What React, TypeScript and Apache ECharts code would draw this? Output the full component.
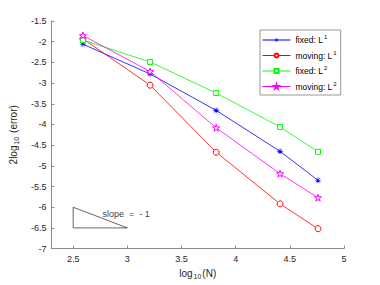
import React, { useEffect, useRef } from "react";
import * as echarts from "echarts";

const xValues = [2.59, 3.21, 3.82, 4.41, 4.76];
const fixedL1 = [-2.06, -2.78, -3.66, -4.65, -5.35];
const movingL1 = [-1.93, -3.05, -4.67, -5.92, -6.52];
const fixedL2 = [-1.96, -2.49, -3.24, -4.06, -4.66];
const movingL2 = [-1.85, -2.72, -4.08, -5.19, -5.77];
const xTicks = [2.5, 3, 3.5, 4, 4.5, 5];
const triangle = [[2.5, -6], [2.5, -6.5], [3, -6.5], [2.5, -6]];
const slopeLabelPos = [2.77, -6.16];
const seriesNames = [
  "{t|fixed: L}{sup|1}",
  "{t|moving: L}{sup|1}",
  "{t|fixed: L}{sup|2}",
  "{t|moving: L}{sup|2}",
];

const asterisk =
  "path://M4.5,0H5.5V10H4.5Z M0,4.5H10V5.5H0Z M1,1.7L1.7,1L9,8.3L8.3,9Z M8.3,1L9,1.7L1.7,9L1,8.3Z";
const star =
  "path://M5,0L6.12,3.46L9.76,3.45L6.81,5.59L7.94,9.05L5,6.9L2.06,9.05L3.19,5.59L0.24,3.45L3.88,3.46Z";

const FONT = "Liberation Sans";

export default function App() {
  const ref = useRef<HTMLDivElement>(null);
  useEffect(() => {
    const chart = echarts.init(ref.current!, null, { renderer: "svg" });
    const zip = (ys: number[]) => xValues.map((x, i) => [x, ys[i]]);
    const legendRich = {
      t: { fontSize: 8.5, fontFamily: FONT, color: "#000", lineHeight: 12 },
      sup: { fontSize: 6, fontFamily: FONT, color: "#000", verticalAlign: "top", lineHeight: 8, padding: [0, 0, 0, 1] },
    };
    const nameRich = {
      m: { fontSize: 10, fontFamily: FONT, color: "#262626" },
      sub: { fontSize: 7, fontFamily: FONT, color: "#262626", padding: [6, 1, 0, 1] },
    };
    const mk = (i: number, ys: number[], color: string, symbol: string, size: number, filled: boolean) => ({
      name: seriesNames[i],
      type: "line",
      data: zip(ys),
      symbol,
      symbolSize: size,
      showAllSymbol: true,
      lineStyle: { color, width: 0.8 },
      itemStyle: filled
        ? { color, borderColor: color, borderWidth: 0 }
        : { color: "#fff", borderColor: color, borderWidth: 1 },
      z: 3,
    });
    chart.setOption({
      animation: false,
      backgroundColor: "#fff",
      textStyle: { fontFamily: FONT },
      grid: { left: 50, top: 21, width: 294, height: 230, containLabel: false },
      legend: {
        orient: "vertical",
        left: 260,
        top: 30,
        data: seriesNames,
        itemWidth: 28,
        itemHeight: 5,
        itemGap: 5,
        padding: [4, 4, 4, 2],
        backgroundColor: "#fff",
        borderColor: "#999",
        borderWidth: 1,
        borderRadius: 0,
        lineStyle: { width: 1 },
        textStyle: { fontSize: 8.5, fontFamily: FONT, color: "#000", rich: legendRich },
      },
      xAxis: {
        type: "value",
        min: 2.3,
        max: 5,
        name: "{m|log}{sub|10}{m|(N)}",
        nameLocation: "middle",
        nameGap: 15,
        nameTextStyle: { fontSize: 10, color: "#262626", rich: nameRich },
        axisLine: { lineStyle: { color: "#8c8c8c", width: 1 } },
        axisTick: { inside: true, length: 3, customValues: xTicks, lineStyle: { color: "#8c8c8c" } },
        axisLabel: { fontSize: 9, color: "#262626", margin: 6, customValues: xTicks },
        splitLine: { show: false },
      },
      yAxis: {
        type: "value",
        min: -7,
        max: -1.5,
        interval: 0.5,
        name: "{m|2log}{sub|10}{m| (error)}",
        nameLocation: "middle",
        nameGap: 32,
        nameRotate: 90,
        nameTextStyle: { fontSize: 10, color: "#262626", rich: nameRich },
        axisLine: { lineStyle: { color: "#8c8c8c", width: 1 } },
        axisTick: { inside: true, length: 3, lineStyle: { color: "#8c8c8c" } },
        axisLabel: { fontSize: 9, color: "#262626", margin: 5 },
        splitLine: { show: false },
      },
      series: [
        mk(0, fixedL1, "#0000ff", asterisk, 6, true),
        mk(1, movingL1, "#ff0000", "circle", 6, false),
        mk(2, fixedL2, "#00ff00", "rect", 5, false),
        mk(3, movingL2, "#ff00ff", star, 7, false),
        {
          name: "triangle",
          type: "line",
          data: triangle,
          symbol: "none",
          lineStyle: { color: "#000", width: 0.6 },
          z: 2,
        },
        {
          name: "slope",
          type: "scatter",
          data: [slopeLabelPos],
          symbolSize: 0,
          label: {
            show: true,
            position: "right",
            distance: 0,
            formatter: "slope  =  - 1",
            fontSize: 9,
            color: "#000",
            fontFamily: FONT,
          },
        },
      ],
    });
    return () => chart.dispose();
  }, []);
  return <div ref={ref} style={{ width: 380, height: 285, position: "absolute", left: 0, top: 0 }} />;
}
